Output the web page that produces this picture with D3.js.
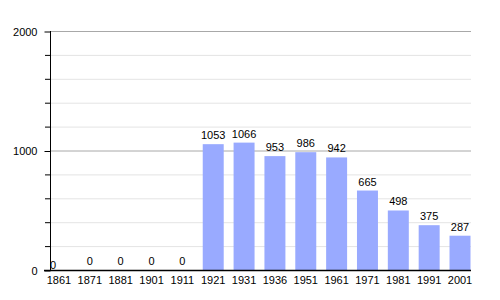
<!doctype html>
<html>
<head>
<meta charset="UTF-8">
<script src="https://d3js.org/d3.v7.min.js"></script>
<style>
  body { margin: 0; background: #fff; }
  text { font-family: "Liberation Sans", Arial, sans-serif; font-size: 11px; fill: #000; }
</style>
</head>
<body>
<svg id="chart" width="500" height="300"></svg>
<script>
// census years and population
var years = ["1861", "1871", "1881", "1901", "1911", "1921", "1931", "1936", "1951", "1961", "1971", "1981", "1991", "2001"];
var population = [0, 0, 0, 0, 0, 1053, 1066, 953, 986, 942, 665, 498, 375, 287];
var majorTicks = [0, 1000, 2000];
var minorTicks = [200, 400, 600, 800, 1200, 1400, 1600, 1800];

var svg = d3.select("#chart");
var pLeft = 50, pRight = 471, pTop = 31, pBottom = 270;

var y = d3.scaleLinear().domain([0, 2000]).range([pBottom, pTop]);
var x = d3.scaleBand().domain(years).range([48.5, 470.5]).paddingInner(0.32).paddingOuter(0);

// grid
svg.selectAll(".minor").data(minorTicks).enter().append("line")
    .attr("x1", pLeft).attr("x2", pRight)
    .attr("y1", function (d) { return y(d) + 0.5; })
    .attr("y2", function (d) { return y(d) + 0.5; })
    .attr("stroke", "#e4e4e4").attr("stroke-width", 1);
svg.selectAll(".major").data(majorTicks.slice(1)).enter().append("line")
    .attr("x1", pLeft).attr("x2", pRight)
    .attr("y1", function (d) { return y(d) + 0.5; })
    .attr("y2", function (d) { return y(d) + 0.5; })
    .attr("stroke", "#a8a8a8").attr("stroke-width", 1);

// bars
svg.selectAll("rect").data(population).enter().append("rect")
    .attr("x", function (d, i) { return x(years[i]); })
    .attr("y", function (d) { return y(d); })
    .attr("width", x.bandwidth())
    .attr("height", function (d) { return pBottom - y(d); })
    .attr("fill", "#99aaff");

// value labels
svg.selectAll(".val").data(population).enter().append("text")
    .attr("x", function (d, i) { return i === 0 ? pLeft : x(years[i]) + x.bandwidth() / 2; })
    .attr("y", function (d, i) { return i === 0 ? pBottom - 1 : y(d) - 5; })
    .attr("text-anchor", function (d, i) { return i === 0 ? "start" : "middle"; })
    .text(function (d) { return d; });

// y axis
var yAxis = d3.axisLeft(y).tickValues(majorTicks).tickFormat(d3.format("d")).tickSize(6).tickPadding(7);
var gy = svg.append("g").attr("transform", "translate(" + (pLeft + 0.5) + ",0.5)").call(yAxis);
gy.selectAll("line").attr("stroke", "#000");
gy.select(".domain").attr("stroke", "#000").attr("d", "M0," + (pTop - 0.5) + "V" + pBottom);
gy.selectAll("text").attr("font-size", 11).attr("font-family", "Liberation Sans, Arial, sans-serif");
svg.selectAll(".ytick").data(minorTicks).enter().append("line")
    .attr("x1", pLeft - 5).attr("x2", pLeft)
    .attr("y1", function (d) { return y(d) + 0.5; })
    .attr("y2", function (d) { return y(d) + 0.5; })
    .attr("stroke", "#000");

// x axis
svg.append("line").attr("x1", pLeft - 6).attr("x2", pRight)
    .attr("y1", pBottom + 0.5).attr("y2", pBottom + 0.5)
    .attr("stroke", "#000").attr("stroke-width", 1.5);
svg.selectAll(".xl").data(years).enter().append("text")
    .attr("x", function (d) { return x(d) + x.bandwidth() / 2; })
    .attr("y", pBottom + 14)
    .attr("text-anchor", "middle")
    .text(function (d) { return d; });
</script>
</body>
</html>
